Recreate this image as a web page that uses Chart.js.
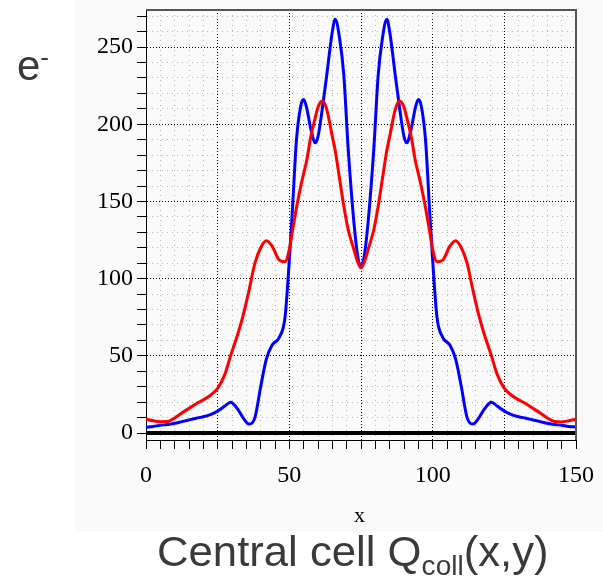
<!DOCTYPE html>
<html>
<head>
<meta charset="utf-8">
<script src="https://cdn.jsdelivr.net/npm/chart.js@4/dist/chart.umd.min.js"></script>
<style>
  html, body { margin: 0; padding: 0; background: #fff; }
  #wrap { position: relative; width: 603px; height: 581px; overflow: hidden; }
  #panel { position: absolute; left: 75px; top: 0; width: 528px; height: 532px; background: #fafafa; }
  #chart { position: absolute; left: 0; top: 0; }
  .lbl { position: absolute; white-space: nowrap; }
  #ylab { left: 17px; top: 42px; font: 42px "Liberation Sans", Arial, sans-serif; color: #3a3a3a; }
  #ylab sup { font-size: 26px; vertical-align: 0; position: relative; top: -14px; }
  #xlab { left: 354px; top: 502px; font: 22px "Liberation Serif", "Times New Roman", serif; color: #000; }
  #title { left: 157px; top: 528px; font: 42px "Liberation Sans", Arial, sans-serif; color: #3a3a3a;
           transform: scaleX(1.04); transform-origin: 0 0; }
  #title sub { font-size: 27px; position: relative; top: 9px; vertical-align: 0; }
</style>
</head>
<body>
<div id="wrap">
  <div id="panel"></div>
  <canvas id="chart" width="603" height="581"></canvas>
  <div class="lbl" id="ylab">e<sup>-</sup></div>
  <div class="lbl" id="xlab">x</div>
  <div class="lbl" id="title">Central cell Q<sub>coll</sub>(x,y)</div>
</div>
<script>
// x positions (cell position) shared by both curves
const xPos = [0, 2.5, 5, 7.5, 10, 12.5, 15, 17.5, 20, 22.5, 25, 27.5, 29.5, 32, 34, 36, 38, 40, 42, 44,
  46.5, 48.5, 50, 51, 52.5, 54, 55, 56, 57.5, 59, 60, 61.5, 63, 65, 66, 67.5, 69, 70.5, 72.5, 74, 75,
  76, 77.5, 79.5, 81, 82.5, 84, 85, 87, 88.5, 90, 91, 92.5, 94, 95, 96, 97.5, 99, 100, 101.5, 103.5,
  106, 108, 110, 112, 114, 116, 118, 120.5, 122.5, 125, 127.5, 130, 132.5, 135, 137.5, 140, 142.5, 145, 147.5, 150];

// blue curve
const blueVals = [3.7, 4.3, 5.0, 5.6, 6.3, 7.4, 8.5, 9.6, 10.6, 12, 14.2, 17.5, 20, 15.5, 9.5, 5.8, 10, 30, 48, 57,
  62, 75, 112, 142, 190, 212, 216, 211, 197, 188, 192, 210, 231, 260, 268, 256, 232, 185, 137, 113, 108,
  113, 137, 185, 232, 256, 268, 260, 231, 210, 192, 188, 197, 211, 216, 212, 190, 142, 112, 75, 62,
  57, 48, 30, 10, 5.8, 9.5, 15.5, 20, 17.5, 14.2, 12, 10.6, 9.6, 8.5, 7.4, 6.3, 5.6, 5.0, 4.3, 3.9];

// red curve
const redVals = [9, 8, 7.4, 7.5, 9.8, 13, 16, 19, 21.5, 24.5, 29, 38, 50, 64, 77, 93, 110, 120, 124.5, 121,
  112, 111, 119, 130, 146, 160, 168, 176, 192, 204, 211, 215, 210, 192, 183, 165, 147, 132, 119, 110, 107,
  110, 119, 132, 147, 165, 183, 192, 210, 215, 211, 204, 192, 176, 168, 160, 146, 130, 119, 111, 112,
  121, 124.5, 120, 110, 93, 77, 64, 50, 38, 29, 24.5, 21.5, 19, 16, 13, 9.8, 7.5, 7.2, 8, 9];

// zero line
const zeroX = [0, 150];
const zeroVals = [0, 0];

// ticks
const xTicks = [];
for (let v = 0; v <= 150; v += 5) xTicks.push(v);
const yTicks = [];
for (let v = 0; v <= 270; v += 10) yTicks.push(v);
const xLabelled = [0, 50, 100, 150];
const yLabelled = [0, 50, 100, 150, 200, 250];

const pts = (xs, ys) => xs.map((x, i) => ({ x: x, y: ys[i] }));

const frame = {
  id: 'frame',
  afterDatasetsDraw(chart) {
    const { ctx, chartArea: a } = chart;
    ctx.save();
    ctx.strokeStyle = '#555';
    ctx.lineWidth = 2;
    ctx.beginPath();
    ctx.moveTo(a.left, a.top);
    ctx.lineTo(a.right, a.top);
    ctx.lineTo(a.right, a.bottom);
    ctx.stroke();
    ctx.restore();
  }
};

const serif = '"Liberation Serif", "Times New Roman", serif';

new Chart(document.getElementById('chart'), {
  type: 'scatter',
  data: {
    datasets: [
      { data: pts(zeroX, zeroVals), showLine: true, borderColor: '#000', borderWidth: 4, pointRadius: 0 },
      { data: pts(xPos, redVals), showLine: true, borderColor: '#ff0000', borderWidth: 3, pointRadius: 0,
        cubicInterpolationMode: 'monotone' },
      { data: pts(xPos, blueVals), showLine: true, borderColor: '#0000ff', borderWidth: 3, pointRadius: 0,
        cubicInterpolationMode: 'monotone' }
    ]
  },
  options: {
    responsive: false,
    animation: false,
    events: [],
    layout: { padding: { top: 10, right: 27, left: 0, bottom: 0 } },
    plugins: { legend: { display: false }, tooltip: { enabled: false } },
    scales: {
      x: {
        type: 'linear', min: 0, max: 150,
        afterBuildTicks: s => { s.ticks = xTicks.map(v => ({ value: v })); },
        afterFit: s => { s.height = 141; s.paddingLeft = 0; s.paddingRight = 0; },
        ticks: {
          autoSkip: false, maxRotation: 0, padding: 12, color: '#000',
          font: { family: serif, size: 24 },
          callback: v => xLabelled.includes(v) ? String(v) : ''
        },
        grid: {
          color: c => (c.tick && c.tick.value % 25 === 0) ? '#000' : '#b8b8b8',
          lineWidth: 1, tickLength: 9, tickColor: '#000', tickWidth: 1
        },
        border: { display: true, color: '#000', width: 1, dash: c => (c.tick && c.tick.value % 25 === 0) ? [1, 2] : [1, 4] }
      },
      y: {
        type: 'linear', min: -4.5, max: 274,
        afterBuildTicks: s => { s.ticks = yTicks.map(v => ({ value: v })); },
        afterFit: s => { s.width = 146; s.paddingTop = 0; s.paddingBottom = 0; },
        ticks: {
          autoSkip: false, padding: 4, color: '#000',
          font: { family: serif, size: 24 },
          callback: v => yLabelled.includes(v) ? String(v) : ''
        },
        grid: {
          color: c => (c.tick && c.tick.value % 50 === 0) ? '#000' : '#b8b8b8',
          lineWidth: 1, tickLength: 9, tickColor: '#000', tickWidth: 1
        },
        border: { display: true, color: '#000', width: 1, dash: c => (c.tick && c.tick.value % 50 === 0) ? [1, 2] : [1, 4] }
      }
    }
  },
  plugins: [frame]
});
</script>
</body>
</html>
